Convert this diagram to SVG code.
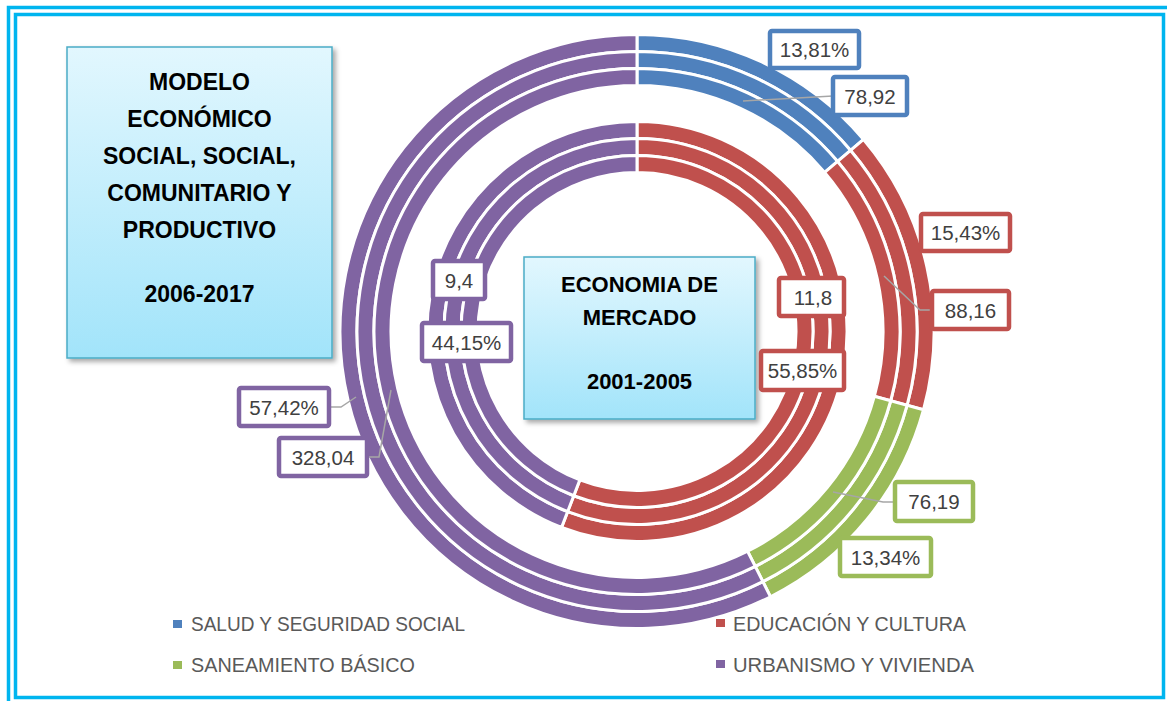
<svg xmlns="http://www.w3.org/2000/svg" width="1167" height="701" viewBox="0 0 1167 701">
<defs>
<linearGradient id="boxGrad" x1="0" y1="0" x2="0" y2="1">
<stop offset="0" stop-color="#E2F7FE"/>
<stop offset="1" stop-color="#A2E4FA"/>
</linearGradient>
<filter id="shadow" x="-10%" y="-10%" width="130%" height="130%">
<feDropShadow dx="3" dy="3" stdDeviation="2.5" flood-color="#000" flood-opacity="0.35"/>
</filter>
</defs>
<style>
.frame{fill:none;stroke:#00B5EF;stroke-width:3.5}
.seg{stroke:#FFFFFF;stroke-width:3;stroke-linejoin:miter}
.blue{fill:#4F81BD}
.red{fill:#C0504D}
.green{fill:#9BBB59}
.purple{fill:#8064A2}
.lbl{fill:#FFFFFF;stroke-width:4.5}
.sb{stroke:#4F81BD}
.sr{stroke:#C0504D}
.sg{stroke:#9BBB59}
.sp{stroke:#8064A2}
.lt{font-family:"Liberation Sans",Arial,sans-serif;font-size:20.5px;fill:#404040;text-anchor:middle}
.leader{fill:none;stroke:#A6A6A6;stroke-width:1.5}
.title{fill:url(#boxGrad);stroke:#4BACC6;stroke-width:1.5;filter:url(#shadow)}
.tt{font-family:"Liberation Sans",Arial,sans-serif;font-weight:bold;fill:#000000;text-anchor:middle}
.leg{font-family:"Liberation Sans",Arial,sans-serif;font-size:21px;fill:#595959}
</style>
<rect width="1167" height="701" fill="#FFFFFF"/>
<rect class="frame" x="8.5" y="7.5" width="1175" height="710"/>
<rect class="frame" x="15.5" y="14.5" width="1148" height="683"/>

<g id="ring-2006-2017">
<path class="seg blue" d="M637,34.5 A297,297 0 0 1 863.57,139.46 L850.60,150.45 A280,280 0 0 0 637,51.5 Z"/>
<path class="seg red" d="M863.57,139.46 A297,297 0 0 1 923.53,409.69 L907.13,405.22 A280,280 0 0 0 850.60,150.45 Z"/>
<path class="seg green" d="M923.53,409.69 A297,297 0 0 1 770.50,596.81 L762.86,581.62 A280,280 0 0 0 907.13,405.22 Z"/>
<path class="seg purple" d="M770.50,596.81 A297,297 0 1 1 637,34.5 L637,51.5 A280,280 0 1 0 762.86,581.62 Z"/>
<path class="seg blue" d="M637,51.5 A280,280 0 0 1 850.60,150.45 L837.63,161.45 A263,263 0 0 0 637,68.5 Z"/>
<path class="seg red" d="M850.60,150.45 A280,280 0 0 1 907.13,405.22 L890.73,400.74 A263,263 0 0 0 837.63,161.45 Z"/>
<path class="seg green" d="M907.13,405.22 A280,280 0 0 1 762.86,581.62 L755.22,566.44 A263,263 0 0 0 890.73,400.74 Z"/>
<path class="seg purple" d="M762.86,581.62 A280,280 0 1 1 637,51.5 L637,68.5 A263,263 0 1 0 755.22,566.44 Z"/>
<path class="seg blue" d="M637,68.5 A263,263 0 0 1 837.63,161.45 L824.66,172.44 A246,246 0 0 0 637,85.5 Z"/>
<path class="seg red" d="M837.63,161.45 A263,263 0 0 1 890.73,400.74 L874.33,396.26 A246,246 0 0 0 824.66,172.44 Z"/>
<path class="seg green" d="M890.73,400.74 A263,263 0 0 1 755.22,566.44 L747.58,551.25 A246,246 0 0 0 874.33,396.26 Z"/>
<path class="seg purple" d="M755.22,566.44 A263,263 0 1 1 637,68.5 L637,85.5 A246,246 0 1 0 747.58,551.25 Z"/>
</g>

<g id="ring-2001-2005">
<path class="seg red" d="M637,121.5 A210,210 0 1 1 561.54,527.47 L567.65,511.61 A193,193 0 1 0 637,138.5 Z"/>
<path class="seg purple" d="M561.54,527.47 A210,210 0 0 1 637,121.5 L637,138.5 A193,193 0 0 0 567.65,511.61 Z"/>
<path class="seg red" d="M637,138.5 A193,193 0 1 1 567.65,511.61 L573.75,495.74 A176,176 0 1 0 637,155.5 Z"/>
<path class="seg purple" d="M567.65,511.61 A193,193 0 0 1 637,138.5 L637,155.5 A176,176 0 0 0 573.75,495.74 Z"/>
<path class="seg red" d="M637,155.5 A176,176 0 1 1 573.75,495.74 L579.86,479.88 A159,159 0 1 0 637,172.5 Z"/>
<path class="seg purple" d="M573.75,495.74 A176,176 0 0 1 637,155.5 L637,172.5 A159,159 0 0 0 579.86,479.88 Z"/>
</g>

<g id="connectors">
<polyline class="leader" points="743,101 833,96"/>
<polyline class="leader" points="884,276 920,310 932,310"/>
<polyline class="leader" points="833,492 883,502 895,502"/>
<polyline class="leader" points="329,407 341,407 356,397"/>
<polyline class="leader" points="367,457 379,457 391,390"/>
</g>

<g id="title-2006-2017">
<rect class="title" x="67" y="47" width="265" height="311"/>
<text class="tt" font-size="23" x="199.5" y="90">MODELO</text>
<text class="tt" font-size="23" x="199.5" y="127">ECONÓMICO</text>
<text class="tt" font-size="23" x="199.5" y="164">SOCIAL, SOCIAL,</text>
<text class="tt" font-size="23" x="199.5" y="201">COMUNITARIO Y</text>
<text class="tt" font-size="23" x="199.5" y="238">PRODUCTIVO</text>
<text class="tt" font-size="23" x="199.5" y="302">2006-2017</text>
</g>

<g id="title-2001-2005">
<rect class="title" x="524" y="257" width="231" height="162"/>
<text class="tt" font-size="22" x="639.5" y="292">ECONOMIA DE</text>
<text class="tt" font-size="22" x="639.5" y="324.5">MERCADO</text>
<text class="tt" font-size="22" x="639.5" y="389">2001-2005</text>
</g>

<g id="label-salud-pct"><rect class="lbl sb" x="770" y="31" width="89" height="37" rx="2"/><text class="lt" x="814.5" y="57">13,81%</text></g>
<g id="label-salud-val"><rect class="lbl sb" x="833" y="77" width="74" height="38" rx="2"/><text class="lt" x="870" y="103.5">78,92</text></g>
<g id="label-edu-pct"><rect class="lbl sr" x="921" y="214" width="89" height="37" rx="2"/><text class="lt" x="965.5" y="240">15,43%</text></g>
<g id="label-edu-val"><rect class="lbl sr" x="932" y="291" width="77" height="38" rx="2"/><text class="lt" x="970.5" y="317.5">88,16</text></g>
<g id="label-edu-val-inner"><rect class="lbl sr" x="779" y="278" width="65" height="38" rx="2"/><text class="lt" x="813" y="304.5">11,8</text></g>
<g id="label-edu-pct-inner"><rect class="lbl sr" x="761" y="351" width="83" height="39" rx="2"/><text class="lt" x="802.5" y="378">55,85%</text></g>
<g id="label-san-val"><rect class="lbl sg" x="895" y="482" width="78" height="39" rx="2"/><text class="lt" x="934" y="509">76,19</text></g>
<g id="label-san-pct"><rect class="lbl sg" x="840" y="538" width="91" height="38" rx="2"/><text class="lt" x="885.5" y="564.5">13,34%</text></g>
<g id="label-urb-val-inner"><rect class="lbl sp" x="433" y="261" width="52" height="38" rx="2"/><text class="lt" x="459" y="287.5">9,4</text></g>
<g id="label-urb-pct-inner"><rect class="lbl sp" x="422" y="323" width="89" height="38" rx="2"/><text class="lt" x="466.5" y="349.5">44,15%</text></g>
<g id="label-urb-pct"><rect class="lbl sp" x="239" y="388" width="90" height="38" rx="2"/><text class="lt" x="284" y="414.5">57,42%</text></g>
<g id="label-urb-val"><rect class="lbl sp" x="279" y="438" width="88" height="38" rx="2"/><text class="lt" x="323" y="464.5">328,04</text></g>

<g id="legend">
<rect class="blue" x="173" y="620" width="9" height="8"/>
<text class="leg" x="191" y="631" textLength="274" lengthAdjust="spacingAndGlyphs">SALUD Y SEGURIDAD SOCIAL</text>
<rect class="red" x="716" y="619" width="9" height="8"/>
<text class="leg" x="733" y="631" textLength="233" lengthAdjust="spacingAndGlyphs">EDUCACIÓN Y CULTURA</text>
<rect class="green" x="173" y="661" width="9" height="8"/>
<text class="leg" x="191" y="672" textLength="224" lengthAdjust="spacingAndGlyphs">SANEAMIENTO BÁSICO</text>
<rect class="purple" x="716" y="660" width="9" height="8"/>
<text class="leg" x="733" y="672" textLength="241" lengthAdjust="spacingAndGlyphs">URBANISMO Y VIVIENDA</text>
</g>
</svg>
